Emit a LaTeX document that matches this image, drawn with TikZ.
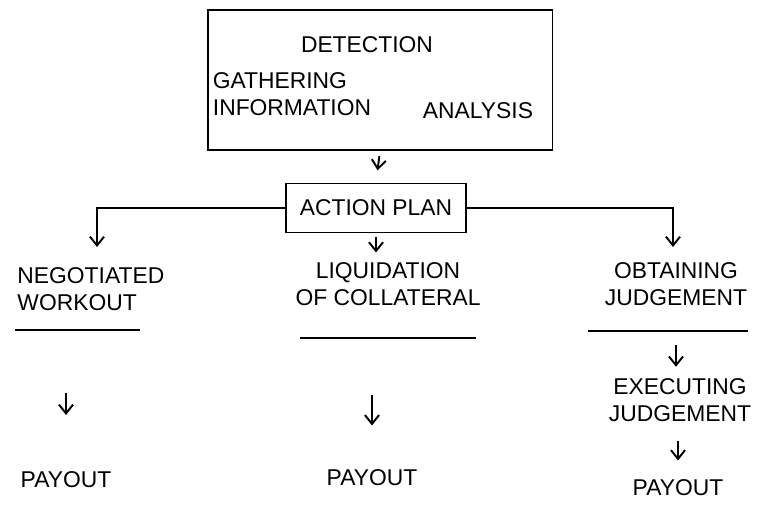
\documentclass[tikz,border=0pt]{standalone}
\usepackage{fontspec}
\setmainfont{Liberation Sans}
\usetikzlibrary{arrows.meta}

\begin{document}
\begin{tikzpicture}[x=0.02cm, y=-0.02cm, line width=1.1pt,
	lbl/.style={font=\fontsize{13}{15.5}\selectfont, align=center, inner sep=2pt},
	arr/.style={-{Straight Barb[length=5pt,width=8pt]}}]
\useasboundingbox (0,0) rectangle (758,510);

% detection
\node (det) [draw, minimum width=6.9cm, minimum height=2.8cm] at (380,80) {};
\node (detect) [lbl] at (367,45) {DETECTION};
\node (gather) [lbl, align=left] at (292,94) {GATHERING\\INFORMATION};
\node (analysis) [lbl] at (478,111) {ANALYSIS};

% action plan
\node (plan) [draw, lbl, minimum width=3.6cm, minimum height=0.98cm] at (376,208) {ACTION PLAN};
\draw[arr, shorten <=3pt, shorten >=7pt] (det.south) -- (plan.north);

% three ways
\node (neg) [lbl, align=left, anchor=west] at (13,289) {NEGOTIATED\\WORKOUT};
\node (liq) [lbl] at (388,284) {LIQUIDATION\\OF COLLATERAL};
\node (obt) [lbl] at (676,284) {OBTAINING\\JUDGEMENT};
\coordinate (negtip) at (97,247);
\coordinate (obttip) at (673,247);
\draw[arr] (plan.west) -| (negtip);
\draw[arr] (plan.east) -| (obttip);
\draw[arr, shorten <=2pt, shorten >=3pt] (plan.south) -- (plan.south |- liq.north);

\draw (15,330) -- (140,330);
\draw (300,338) -- (476,338);
\draw (588,331) -- (748,331);

\node (exe) [lbl] at (680,400) {EXECUTING\\JUDGEMENT};
\draw[arr, shorten <=0.7cm, shorten >=4pt] (obt.south) -- (obt.south |- exe.north);

% payouts
\node (pay1) [lbl] at (66,480) {PAYOUT};
\node (pay2) [lbl] at (372,478) {PAYOUT};
\node (pay3) [lbl] at (678,488) {PAYOUT};
\draw[arr, shorten <=1.55cm, shorten >=1.05cm] (pay1.north |- neg.south) -- (pay1.north);
\draw[arr, shorten <=1.7cm, shorten >=0.8cm] (pay2.north |- liq.south) -- (pay2.north);
\draw[arr, shorten <=0.3cm, shorten >=0.3cm] (pay3.north |- exe.south) -- (pay3.north);
\end{tikzpicture}
\end{document}
